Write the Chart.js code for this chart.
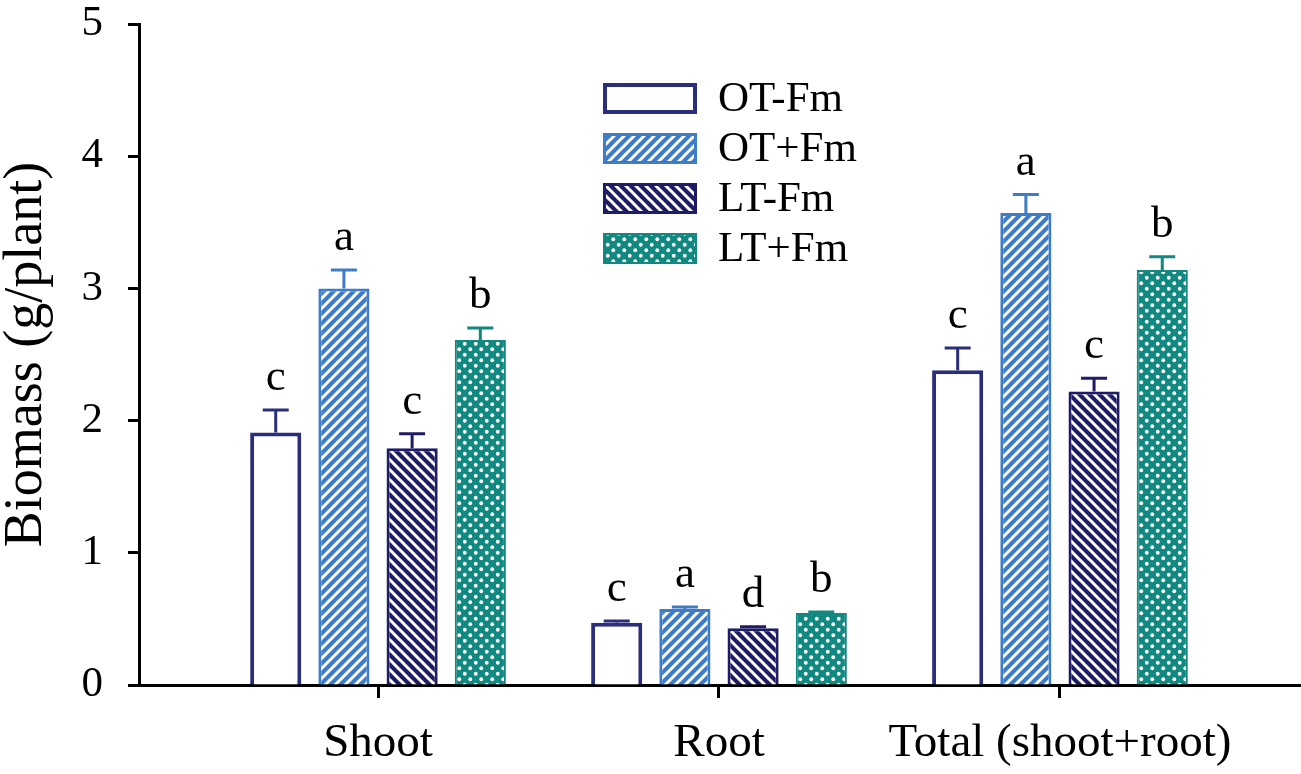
<!DOCTYPE html>
<html>
<head>
<meta charset="utf-8">
<script src="https://cdn.jsdelivr.net/npm/chart.js@4.4.1/dist/chart.umd.min.js"></script>
<style>
  html, body { margin: 0; padding: 0; background: #ffffff; }
  #wrap { width: 1301px; height: 774px; }
</style>
</head>
<body>
<div id="wrap"><canvas id="c" width="1301" height="774"></canvas></div>
<script>
// ---- data ----
const categories = ['Shoot', 'Root', 'Total (shoot+root)'];
const seriesLabels = ['OT-Fm', 'OT+Fm', 'LT-Fm', 'LT+Fm'];

const otMinus = [1.91, 0.47, 2.38];
const otPlus  = [3.00, 0.575, 3.57];
const ltMinus = [1.79, 0.43, 2.22];
const ltPlus  = [2.61, 0.545, 3.14];

const otMinusErr = [0.17, 0.015, 0.17];
const otPlusErr  = [0.14, 0.015, 0.14];
const ltMinusErr = [0.11, 0.01, 0.10];
const ltPlusErr  = [0.09, 0.008, 0.10];

const otMinusSig = ['c', 'c', 'c'];
const otPlusSig  = ['a', 'a', 'a'];
const ltMinusSig = ['c', 'd', 'c'];
const ltPlusSig  = ['b', 'b', 'b'];

const yTicks = [0, 1, 2, 3, 4, 5];

// ---- patterns ----
const NAVY = '#2b2e7b', BLUE = '#3f7cc8', DNAVY = '#1f1c66', TEAL = '#118981';
function stripes(bg, dir) {
  const c = document.createElement('canvas'); c.width = 10; c.height = 10;
  const g = c.getContext('2d');
  g.fillStyle = bg; g.fillRect(0, 0, 10, 10);
  g.strokeStyle = '#ffffff'; g.lineWidth = 3;
  g.beginPath();
  if (dir === '/') {
    g.moveTo(-1, 11); g.lineTo(11, -1);
    g.moveTo(-6, 6); g.lineTo(6, -6);
    g.moveTo(4, 16); g.lineTo(16, 4);
  } else {
    g.moveTo(-1, -1); g.lineTo(11, 11);
    g.moveTo(-6, 4); g.lineTo(6, 16);
    g.moveTo(4, -6); g.lineTo(16, 6);
  }
  g.stroke();
  return g.createPattern(c, 'repeat');
}
function dots(bg) {
  const s = 11;
  const c = document.createElement('canvas'); c.width = s; c.height = s;
  const g = c.getContext('2d');
  g.fillStyle = bg; g.fillRect(0, 0, s, s);
  g.fillStyle = '#ffffff';
  [[2.75, 2.75], [8.25, 8.25]].forEach(([x, y]) => {
    g.beginPath(); g.arc(x, y, 1.9, 0, Math.PI * 2); g.fill();
  });
  return g.createPattern(c, 'repeat');
}

const toPts = arr => arr.map((v, i) => ({ x: i, y: v }));

const datasets = [
  { label: seriesLabels[0], data: toPts(otMinus), err: otMinusErr, sig: otMinusSig,
    backgroundColor: '#ffffff', borderColor: NAVY, borderWidth: 4 },
  { label: seriesLabels[1], data: toPts(otPlus), err: otPlusErr, sig: otPlusSig,
    backgroundColor: stripes(BLUE, '/'), borderColor: BLUE, borderWidth: 3 },
  { label: seriesLabels[2], data: toPts(ltMinus), err: ltMinusErr, sig: ltMinusSig,
    backgroundColor: stripes(DNAVY, '\\'), borderColor: DNAVY, borderWidth: 3 },
  { label: seriesLabels[3], data: toPts(ltPlus), err: ltPlusErr, sig: ltPlusSig,
    backgroundColor: dots(TEAL), borderColor: TEAL, borderWidth: 2 }
];
datasets.forEach(d => { d.borderSkipped = 'bottom'; d.categoryPercentage = 0.8; d.barPercentage = 0.75; });

const SERIF = "'Liberation Serif', 'Times New Roman', serif";

const errorBars = {
  id: 'errorBars',
  afterDatasetsDraw(chart) {
    const ctx = chart.ctx, ys = chart.scales.y;
    chart.data.datasets.forEach((ds, di) => {
      const meta = chart.getDatasetMeta(di);
      meta.data.forEach((el, i) => {
        const v = ds.data[i].y, e = ds.err[i];
        const yTop = ys.getPixelForValue(v);
        const yCap = ys.getPixelForValue(v + e);
        ctx.save();
        ctx.strokeStyle = ds.borderColor; ctx.lineWidth = 3;
        ctx.beginPath();
        ctx.moveTo(el.x, yTop); ctx.lineTo(el.x, yCap);
        ctx.moveTo(el.x - 13, yCap); ctx.lineTo(el.x + 13, yCap);
        ctx.stroke();
        ctx.fillStyle = '#000000';
        ctx.font = '45px ' + SERIF;
        ctx.textAlign = 'center'; ctx.textBaseline = 'alphabetic';
        ctx.fillText(ds.sig[i], el.x, yCap - 20);
        ctx.restore();
      });
    });
  }
};

const boxLegend = {
  id: 'boxLegend',
  afterDraw(chart) {
    const ctx = chart.ctx;
    chart.data.datasets.forEach((ds, i) => {
      const x = 603, y = 83 + i * 50, w = 94, h = 31;
      ctx.save();
      ctx.fillStyle = ds.backgroundColor;
      ctx.fillRect(x, y, w, h);
      const bw = ds.borderWidth;
      ctx.strokeStyle = ds.borderColor; ctx.lineWidth = bw;
      ctx.strokeRect(x + bw / 2, y + bw / 2, w - bw, h - bw);
      ctx.fillStyle = '#000000';
      ctx.font = '43px ' + SERIF;
      ctx.textAlign = 'left'; ctx.textBaseline = 'middle';
      ctx.fillText(ds.label, 718, y + h / 2 + 1);
      ctx.restore();
    });
  }
};

new Chart(document.getElementById('c'), {
  type: 'bar',
  data: { datasets },
  plugins: [errorBars, boxLegend],
  options: {
    responsive: false,
    animation: false,
    layout: { padding: { top: 24, right: 1, left: 0, bottom: 0 } },
    plugins: { legend: { display: false }, tooltip: { enabled: false } },
    scales: {
      x: {
        type: 'linear',
        min: -0.701, max: 2.704,
        offset: false,
        afterBuildTicks: s => { s.ticks = categories.map((_, i) => ({ value: i })); },
        afterFit: s => { s.height = 89; s.paddingLeft = 0; s.paddingRight = 0; },
        ticks: {
          callback: v => categories[v],
          color: '#000000',
          font: { family: SERIF, size: 47, lineHeight: 1 },
          padding: 22,
          maxRotation: 0, minRotation: 0, autoSkip: false
        },
        grid: { display: true, offset: false, drawOnChartArea: false, drawTicks: true,
                tickLength: 13, tickWidth: 3, tickColor: '#000000' },
        border: { display: true, color: '#000000', width: 3 }
      },
      y: {
        min: 0, max: 5,
        afterBuildTicks: s => { s.ticks = yTicks.map(v => ({ value: v })); },
        afterFit: s => { s.width = 139; s.paddingTop = 0; s.paddingBottom = 0; },
        ticks: {
          color: '#000000',
          font: { family: SERIF, size: 43 },
          padding: 25
        },
        title: {
          display: true, text: 'Biomass (g/plant)', color: '#000000',
          font: { family: SERIF, size: 54, lineHeight: 1 },
          padding: { top: 0, bottom: 0 }
        },
        grid: { display: true, drawOnChartArea: false, drawTicks: true,
                tickLength: 11, tickWidth: 3, tickColor: '#000000' },
        border: { display: true, color: '#000000', width: 3 }
      }
    }
  }
});
</script>
</body>
</html>
